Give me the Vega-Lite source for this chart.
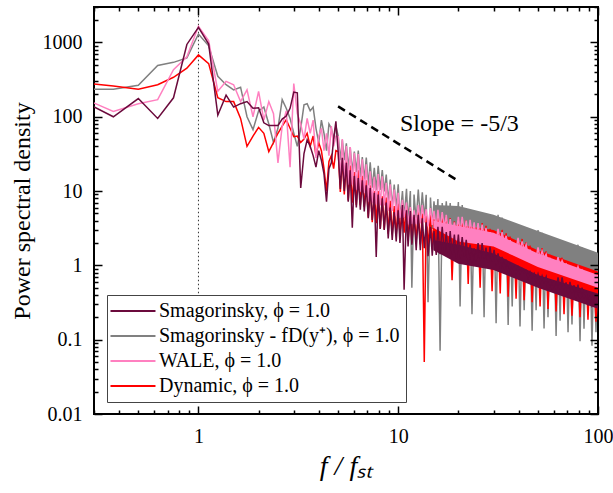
{
"$schema": "https://vega.github.io/schema/vega-lite/v6.json",
"width": 504, "height": 407,
"autosize": "none",
"padding": {"left": 94, "top": 7, "right": 15, "bottom": 79},
"background": "white",
"config": {
  "view": {"stroke": "black", "strokeWidth": 2},
  "font": "Liberation Serif",
  "legend": {"orient": "none", "legendX": 13, "legendY": 288, "fillColor": "white", "strokeColor": "#444", "strokeWidth": 1, "padding": 6, "labelFont": "Liberation Serif", "labelFontSize": 20, "labelColor": "black", "symbolType": "M-2.78,0H7.22", "symbolSize": 81, "symbolStrokeWidth": 2, "labelOffset": 26, "rowPadding": 5, "labelLimit": 400}
},
"datasets": {"psd": [
{"f":0.25,"a":175,"b":235,"c":190,"d":290},
{"f":0.375,"a":100,"b":235,"c":118,"d":260},
{"f":0.5,"a":176,"b":265,"c":150,"d":235},
{"f":0.625,"a":95,"b":490,"c":170,"d":270},
{"f":0.75,"a":180,"b":540,"c":430,"d":340},
{"f":0.875,"a":940,"b":620,"c":640,"d":450},
{"f":1.0,"a":1600,"b":1300,"c":1650,"d":680},
{"f":1.125,"a":950,"b":900,"c":1050,"d":520},
{"f":1.25,"a":105,"b":350,"c":220,"d":180},
{"f":1.375,"a":195,"b":270,"c":300,"d":160},
{"f":1.5,"a":135,"b":230,"c":270,"d":160},
{"f":1.625,"a":150,"b":250,"c":160,"d":95},
{"f":1.75,"a":160,"b":100,"c":230,"d":40},
{"f":1.875,"a":130,"b":67,"c":100,"d":55},
{"f":2.0,"a":132,"b":120,"c":220,"d":72},
{"f":2.125,"a":83,"b":135,"c":90,"d":60},
{"f":2.25,"a":76,"b":80,"c":160,"d":34},
{"f":2.375,"a":76,"b":45,"c":110,"d":45},
{"f":2.5,"a":76,"b":70,"c":24,"d":60},
{"f":2.625,"a":93,"b":170,"c":75,"d":75},
{"f":2.75,"a":102,"b":130,"c":120,"d":91},
{"f":2.875,"a":130,"b":95,"c":21,"d":70},
{"f":3.0,"a":215,"b":60,"c":280,"d":54},
{"f":3.125,"a":210,"b":40,"c":110,"d":55},
{"f":3.25,"a":11,"b":70,"c":80,"d":45},
{"f":3.375,"a":32,"b":145,"c":50,"d":50},
{"f":3.5,"a":49,"b":150,"c":95,"d":60},
{"f":3.625,"a":40,"b":120,"c":60,"d":40},
{"f":3.75,"a":30,"b":135,"c":90,"d":55},
{"f":3.875,"a":21,"b":70,"c":28,"d":30},
{"f":4.0,"a":35,"b":45,"c":55,"d":45},
{"f":4.125,"a":26,"b":90,"c":70,"d":35},
{"f":4.25,"a":17,"b":60,"c":35,"d":20},
{"f":4.375,"a":7.2,"b":35,"c":60,"d":10},
{"f":4.5,"a":20,"b":80,"c":30,"d":25},
{"f":4.625,"a":24,"b":70,"c":75,"d":30},
{"f":4.75,"a":50,"b":50,"c":40,"d":20},
{"f":4.875,"a":87,"b":75,"c":55,"d":35},
{"f":5.01,"a":32,"b":55,"c":54,"d":34},
{"f":5.13,"a":10.7,"b":26,"c":14.3,"d":9.7},
{"f":5.25,"a":28,"b":49,"c":50,"d":28},
{"f":5.37,"a":10,"b":26,"c":14.3,"d":9.0},
{"f":5.50,"a":24,"b":44,"c":40.5,"d":25},
{"f":5.62,"a":7.2,"b":19.7,"c":12.2,"d":7.5},
{"f":5.75,"a":19,"b":39,"c":39,"d":22},
{"f":5.89,"a":3.2,"b":17.6,"c":12.2,"d":7.0},
{"f":6.03,"a":16,"b":34,"c":32.8,"d":18},
{"f":6.17,"a":6.0,"b":18,"c":10.4,"d":6.5},
{"f":6.31,"a":15,"b":35,"c":31.6,"d":19},
{"f":6.46,"a":5.6,"b":15.4,"c":9.8,"d":6.4},
{"f":6.61,"a":14,"b":28.6,"c":26.7,"d":16},
{"f":6.76,"a":5.3,"b":14.3,"c":9.5,"d":6.1},
{"f":6.92,"a":12,"b":28.3,"c":23,"d":14},
{"f":7.08,"a":4.3,"b":11.9,"c":7.2,"d":4.4},
{"f":7.24,"a":11,"b":24.4,"c":18.5,"d":12},
{"f":7.41,"a":4.1,"b":11.1,"c":6.9,"d":3.8},
{"f":7.59,"a":9.5,"b":20.6,"c":15.5,"d":10},
{"f":7.76,"a":1.3,"b":10.3,"c":6.6,"d":3.7},
{"f":7.94,"a":9,"b":21.9,"c":17,"d":10},
{"f":8.13,"a":3.1,"b":10.4,"c":6.4,"d":3.1},
{"f":8.32,"a":8,"b":19.1,"c":15.8,"d":8.5},
{"f":8.51,"a":3.0,"b":9.9,"c":6.4,"d":3.05},
{"f":8.71,"a":7,"b":16.7,"c":12.9,"d":8.2},
{"f":8.91,"a":2.3,"b":7.0,"c":5.4,"d":2.66},
{"f":9.12,"a":6,"b":14.3,"c":12.3,"d":7.4},
{"f":9.33,"a":2.2,"b":6.0,"c":5.4,"d":2.6},
{"f":9.55,"a":5.2,"b":12.2,"c":10.5,"d":6.3},
{"f":9.77,"a":2.1,"b":5.8,"c":4.6,"d":2.54},
{"f":10.0,"a":5.5,"b":12.3,"c":9.5,"d":6.8},
{"f":10.2,"a":2.0,"b":4.2,"c":4.3,"d":2.65},
{"f":10.5,"a":6.5,"b":10.0,"c":7.6,"d":6.8},
{"f":10.7,"a":0.47,"b":4.3,"c":4.4,"d":2.75},
{"f":11.0,"a":5.5,"b":10.7,"c":7.0,"d":6.3},
{"f":11.2,"a":1.8,"b":3.85,"c":3.55,"d":2.16},
{"f":11.5,"a":5.4,"b":10.0,"c":6.1,"d":5.8},
{"f":11.7,"a":1.9,"b":0.5,"c":3.6,"d":2.0},
{"f":12.0,"a":4.8,"b":9.0,"c":5.5,"d":5.2},
{"f":12.3,"a":1.6,"b":4.0,"c":3.6,"d":2.12},
{"f":12.6,"a":4.8,"b":10.5,"c":6.5,"d":5.5},
{"f":12.9,"a":1.6,"b":4.2,"c":3.66,"d":1.92},
{"f":13.2,"a":4.3,"b":9.6,"c":6.5,"d":5.0},
{"f":13.5,"a":1.7,"b":4.3,"c":3.8,"d":0.05},
{"f":13.8,"a":3.8,"b":8.9,"c":5.7,"d":5.1},
{"f":14.1,"a":1.33,"b":0.32,"c":3.35,"d":1.78},
{"f":14.5,"a":3.3,"b":8.2,"c":5.9,"d":4.8},
{"f":14.8,"a":1.35,"b":3.1,"c":3.5,"d":1.81},
{"f":15.1,"a":2.9,"b":7.3,"c":5.4,"d":4.2},
{"f":15.5,"a":1.38,"b":3.3,"c":3.07,"d":1.85},
{"f":15.8,"a":3.3,"b":7.8,"c":5.6,"d":5.2},
{"f":16.2,"a":1.41,"b":0.071,"c":3.05,"d":1.97},
{"f":16.6,"a":3.3,"b":6.9,"c":5.2,"d":4.9},
{"f":17.0,"a":1.48,"b":3.0,"c":3.2,"d":2.05},
{"f":17.4,"a":2.8,"b":7.3,"c":4.8,"d":4.6},
{"f":17.8,"a":1.32,"b":2.66,"c":2.57,"d":1.62},
{"f":18.2,"a":2.9,"b":6.9,"c":4.2,"d":4.3},
{"f":18.6,"a":1.38,"b":2.67,"c":2.6,"d":0.63},
{"f":19.1,"a":2.6,"b":6.1,"c":3.8,"d":3.9},
{"f":19.5,"a":1.23,"b":2.7,"c":2.67,"d":1.61},
{"f":20.0,"a":2.6,"b":7.1,"c":4.5,"d":4.2},
{"f":20.4,"a":1.25,"b":0.28,"c":2.7,"d":1.46},
{"f":20.9,"a":2.4,"b":6.5,"c":4.5,"d":4.3},
{"f":21.4,"a":1.31,"b":2.9,"c":2.8,"d":1.49},
{"f":21.9,"a":2.2,"b":5.9,"c":4.0,"d":4.0},
{"f":22.4,"a":1.07,"b":2.26,"c":2.5,"d":0.56},
{"f":22.9,"a":1.9,"b":5.4,"c":4.1,"d":3.7},
{"f":23.4,"a":1.1,"b":0.22,"c":2.6,"d":1.37},
{"f":24.0,"a":1.7,"b":4.9,"c":3.8,"d":3.3},
{"f":24.5,"a":1.13,"b":2.18,"c":2.3,"d":1.4},
{"f":25.1,"a":2.0,"b":5.1,"c":3.7,"d":3.55},
{"f":25.7,"a":1.16,"b":1.95,"c":2.3,"d":0.5},
{"f":26.3,"a":2.0,"b":4.6,"c":3.55,"d":3.7},
{"f":26.9,"a":1.22,"b":0.20,"c":2.4,"d":1.57},
{"f":27.5,"a":1.74,"b":4.9,"c":3.2,"d":3.4},
{"f":28.2,"a":1.08,"b":1.76,"c":1.97,"d":1.22},
{"f":28.8,"a":1.78,"b":4.6,"c":2.8,"d":3.1},
{"f":29.5,"a":1.13,"b":1.77,"c":2.0,"d":0.45},
{"f":30.2,"a":1.62,"b":4.1,"c":2.5,"d":2.8},
{"f":30.9,"a":1.01,"b":0.166,"c":2.07,"d":1.19},
{"f":31.6,"a":1.45,"b":4.8,"c":3.1,"d":2.95},
{"f":32.4,"a":0.9,"b":1.86,"c":2.04,"d":0.42},
{"f":33.1,"a":1.3,"b":4.4,"c":2.8,"d":3.0},
{"f":33.9,"a":0.88,"b":1.9,"c":2.07,"d":1.29},
{"f":34.7,"a":1.2,"b":4.0,"c":2.5,"d":2.7},
{"f":35.5,"a":0.80,"b":0.158,"c":1.64,"d":0.38},
{"f":36.3,"a":1.05,"b":3.6,"c":2.18,"d":2.44},
{"f":37.2,"a":0.79,"b":0.28,"c":1.63,"d":0.90},
{"f":38.0,"a":0.93,"b":3.2,"c":1.92,"d":2.16},
{"f":38.9,"a":0.79,"b":1.41,"c":1.63,"d":0.355},
{"f":39.8,"a":0.95,"b":3.4,"c":2.34,"d":2.24},
{"f":40.7,"a":0.79,"b":0.151,"c":1.58,"d":0.98},
{"f":41.7,"a":0.9,"b":3.0,"c":2.1,"d":2.27},
{"f":42.7,"a":0.80,"b":0.25,"c":1.61,"d":0.34},
{"f":43.7,"a":0.85,"b":3.2,"c":1.9,"d":2.05},
{"f":44.7,"a":0.69,"b":1.12,"c":1.27,"d":0.79},
{"f":45.7,"a":0.82,"b":2.95,"c":1.63,"d":1.85},
{"f":46.8,"a":0.70,"b":0.132,"c":1.27,"d":0.32},
{"f":47.9,"a":0.78,"b":2.6,"c":1.43,"d":1.64},
{"f":49.0,"a":0.61,"b":0.25,"c":1.26,"d":0.77},
{"f":50.1,"a":0.76,"b":3.0,"c":1.74,"d":1.7},
{"f":51.3,"a":0.59,"b":1.17,"c":1.23,"d":0.28},
{"f":52.5,"a":0.72,"b":2.75,"c":1.56,"d":1.71},
{"f":53.7,"a":0.60,"b":0.141,"c":1.26,"d":0.84},
{"f":55.0,"a":0.70,"b":2.5,"c":1.41,"d":1.54},
{"f":56.2,"a":0.47,"b":0.20,"c":1.0,"d":0.26},
{"f":57.5,"a":0.65,"b":2.3,"c":1.21,"d":1.39},
{"f":58.9,"a":0.47,"b":0.85,"c":1.0,"d":0.61},
{"f":60.3,"a":0.62,"b":2.04,"c":1.06,"d":1.22},
{"f":61.7,"a":0.47,"b":0.112,"c":1.0,"d":0.24},
{"f":63.1,"a":0.69,"b":2.14,"c":1.29,"d":1.26},
{"f":64.6,"a":0.47,"b":0.18,"c":0.975,"d":0.68},
{"f":66.1,"a":0.69,"b":1.9,"c":1.16,"d":1.27},
{"f":67.6,"a":0.48,"b":0.79,"c":0.99,"d":0.22},
{"f":69.2,"a":0.59,"b":2.0,"c":1.04,"d":1.14},
{"f":70.8,"a":0.41,"b":0.126,"c":0.785,"d":0.55},
{"f":72.4,"a":0.60,"b":1.86,"c":0.90,"d":1.03},
{"f":74.1,"a":0.42,"b":0.16,"c":0.78,"d":0.21},
{"f":75.9,"a":0.54,"b":1.66,"c":0.79,"d":0.90},
{"f":77.6,"a":0.36,"b":0.71,"c":0.78,"d":0.53},
{"f":79.4,"a":0.55,"b":1.9,"c":0.955,"d":0.93},
{"f":81.3,"a":0.355,"b":0.095,"c":0.75,"d":0.20},
{"f":83.2,"a":0.50,"b":1.74,"c":0.86,"d":0.94},
{"f":85.1,"a":0.36,"b":0.14,"c":0.76,"d":0.58},
{"f":87.1,"a":0.45,"b":1.58,"c":0.77,"d":0.85},
{"f":89.1,"a":0.29,"b":0.59,"c":0.60,"d":0.186},
{"f":91.2,"a":0.39,"b":1.45,"c":0.66,"d":0.76},
{"f":93.3,"a":0.29,"b":0.083,"c":0.59,"d":0.42},
{"f":95.5,"a":0.35,"b":1.29,"c":0.58,"d":0.67},
{"f":97.7,"a":0.29,"b":0.126,"c":0.58,"d":0.174},
{"f":100,"a":0.41,"b":1.35,"c":0.71,"d":0.69}
],
"band": [
{"f":15,"glo":4.5,"ghi":6.5,"rlo":2.2,"rhi":3.3,"plo":3.2,"phi":4.0,"mlo":1.6,"mhi":2.2},
{"f":20,"glo":2.6,"ghi":6.3,"rlo":1.35,"rhi":3.5,"plo":2.1,"phi":3.4,"mlo":1.05,"mhi":1.9},
{"f":30,"glo":1.8,"ghi":4.8,"rlo":1.05,"rhi":3.0,"plo":1.8,"phi":2.75,"mlo":0.87,"mhi":1.45},
{"f":50,"glo":1.1,"ghi":2.9,"rlo":0.62,"rhi":1.6,"plo":0.95,"phi":1.45,"mlo":0.5,"mhi":0.74},
{"f":100,"glo":0.6,"ghi":1.48,"rlo":0.42,"rhi":0.83,"plo":0.5,"phi":0.74,"mlo":0.26,"mhi":0.42}
]},
"data": {"name": "psd"},
"layer": [
  {
    "data": {"values": [{"f": 1, "lo": 0.04, "hi": 3000}]},
    "mark": {"type": "rule", "color": "#333", "strokeWidth": 1, "strokeDash": [1.5, 2.5]},
    "encoding": {
      "x": {"field": "f", "type": "quantitative", "scale": {"type": "log", "domain": [0.3, 100], "nice": false}, "axis": null},
      "y": {"field": "lo", "type": "quantitative", "scale": {"type": "log", "domain": [0.01, 3000], "nice": false}, "axis": null},
      "y2": {"field": "hi"}
    }
  },
  {
    "data": {"name": "band"},
    "mark": {"type": "area", "color": "#808080", "clip": true},
    "encoding": {
      "x": {"field": "f", "type": "quantitative", "scale": {"type": "log", "domain": [0.3, 100], "nice": false}, "axis": null},
      "y": {"field": "glo", "type": "quantitative", "scale": {"type": "log", "domain": [0.01, 3000], "nice": false}, "axis": null},
      "y2": {"field": "ghi"}
    }
  },
  {
    "mark": {"type": "line", "strokeWidth": 1.5, "clip": true},
    "encoding": {
      "x": {"field": "f", "type": "quantitative", "scale": {"type": "log", "domain": [0.3, 100], "nice": false},
        "axis": {"orient": "bottom", "values": [1, 10, 100], "format": "~g", "tickSize": -8, "zindex": 1,
          "labelPadding": 20, "labelFont": "Liberation Serif", "labelFontSize": 20, "labelColor": "black",
          "tickColor": "black", "tickWidth": 1.5, "domain": false, "grid": false, "labelOverlap": false, "labelFlush": false,
          "title": "f / fₛₜ", "titleFont": "Liberation Serif", "titleFontSize": 28, "titleFontStyle": "italic", "titleFontWeight": "normal", "titleColor": "black", "titlePadding": 6}},
      "y": {"field": "b", "type": "quantitative", "scale": {"type": "log", "domain": [0.01, 3000], "nice": false},
        "axis": {"orient": "left", "values": [0.01, 0.1, 1, 10, 100, 1000], "format": "~g", "tickSize": -8, "zindex": 1,
          "labelPadding": 20, "labelFont": "Liberation Serif", "labelFontSize": 20, "labelColor": "black",
          "tickColor": "black", "tickWidth": 1.5, "domain": false, "grid": false, "labelOverlap": false, "labelFlush": false,
          "title": "Power spectral density", "titleFont": "Liberation Serif", "titleFontSize": 24, "titleFontWeight": "normal", "titleColor": "black", "titlePadding": 8}},
      "color": {"datum": "Smagorinsky - fD(y⁺), ϕ = 1.0", "scale": {"domain": ["Smagorinsky, ϕ = 1.0", "Smagorinsky - fD(y⁺), ϕ = 1.0", "WALE, ϕ = 1.0", "Dynamic, ϕ = 1.0"], "range": ["#6B0A3C", "#808080", "#FF80C0", "#FF0000"]}, "legend": {"title": null}}
    }
  },
  {
    "data": {"name": "band"},
    "mark": {"type": "area", "color": "#FF0000", "clip": true},
    "encoding": {
      "x": {"field": "f", "type": "quantitative", "scale": {"type": "log", "domain": [0.3, 100], "nice": false}, "axis": null},
      "y": {"field": "rlo", "type": "quantitative", "scale": {"type": "log", "domain": [0.01, 3000], "nice": false}, "axis": null},
      "y2": {"field": "rhi"}
    }
  },
  {
    "mark": {"type": "line", "strokeWidth": 1.5, "clip": true},
    "encoding": {
      "x": {"field": "f", "type": "quantitative", "scale": {"type": "log", "domain": [0.3, 100], "nice": false},
        "axis": {"orient": "top", "values": [1, 10, 100], "labels": false, "title": null, "tickSize": -8, "zindex": 1,
          "tickColor": "black", "tickWidth": 1.5, "domain": false, "grid": false}},
      "y": {"field": "d", "type": "quantitative", "scale": {"type": "log", "domain": [0.01, 3000], "nice": false},
        "axis": {"orient": "right", "values": [0.01, 0.1, 1, 10, 100, 1000], "labels": false, "title": null, "tickSize": -8, "zindex": 1,
          "tickColor": "black", "tickWidth": 1.5, "domain": false, "grid": false}},
      "color": {"datum": "Dynamic, ϕ = 1.0", "legend": {"title": null}}
    }
  },
  {
    "data": {"name": "band"},
    "mark": {"type": "area", "color": "#FF80C0", "clip": true},
    "encoding": {
      "x": {"field": "f", "type": "quantitative", "scale": {"type": "log", "domain": [0.3, 100], "nice": false}, "axis": null},
      "y": {"field": "plo", "type": "quantitative", "scale": {"type": "log", "domain": [0.01, 3000], "nice": false}, "axis": null},
      "y2": {"field": "phi"}
    }
  },
  {
    "mark": {"type": "line", "strokeWidth": 1.5, "clip": true},
    "encoding": {
      "x": {"field": "f", "type": "quantitative", "scale": {"type": "log", "domain": [0.3, 100], "nice": false},
        "axis": {"orient": "bottom", "values": [0.3,0.4,0.5,0.6,0.7,0.8,0.9,2,3,4,5,6,7,8,9,20,30,40,50,60,70,80,90], "labels": false, "title": null, "tickSize": -4, "zindex": 1,
          "tickColor": "black", "tickWidth": 1.5, "domain": false, "grid": false}},
      "y": {"field": "c", "type": "quantitative", "scale": {"type": "log", "domain": [0.01, 3000], "nice": false},
        "axis": {"orient": "left", "values": [0.02,0.03,0.04,0.05,0.06,0.07,0.08,0.09,0.2,0.3,0.4,0.5,0.6,0.7,0.8,0.9,2,3,4,5,6,7,8,9,20,30,40,50,60,70,80,90,200,300,400,500,600,700,800,900,2000,3000], "labels": false, "title": null, "tickSize": -4, "zindex": 1,
          "tickColor": "black", "tickWidth": 1.5, "domain": false, "grid": false}},
      "color": {"datum": "WALE, ϕ = 1.0", "legend": {"title": null}}
    }
  },
  {
    "data": {"name": "band"},
    "mark": {"type": "area", "color": "#6B0A3C", "clip": true},
    "encoding": {
      "x": {"field": "f", "type": "quantitative", "scale": {"type": "log", "domain": [0.3, 100], "nice": false}, "axis": null},
      "y": {"field": "mlo", "type": "quantitative", "scale": {"type": "log", "domain": [0.01, 3000], "nice": false}, "axis": null},
      "y2": {"field": "mhi"}
    }
  },
  {
    "mark": {"type": "line", "strokeWidth": 1.5, "clip": true},
    "encoding": {
      "x": {"field": "f", "type": "quantitative", "scale": {"type": "log", "domain": [0.3, 100], "nice": false},
        "axis": {"orient": "top", "values": [0.3,0.4,0.5,0.6,0.7,0.8,0.9,2,3,4,5,6,7,8,9,20,30,40,50,60,70,80,90], "labels": false, "title": null, "tickSize": -4, "zindex": 1,
          "tickColor": "black", "tickWidth": 1.5, "domain": false, "grid": false}},
      "y": {"field": "a", "type": "quantitative", "scale": {"type": "log", "domain": [0.01, 3000], "nice": false},
        "axis": {"orient": "right", "values": [0.02,0.03,0.04,0.05,0.06,0.07,0.08,0.09,0.2,0.3,0.4,0.5,0.6,0.7,0.8,0.9,2,3,4,5,6,7,8,9,20,30,40,50,60,70,80,90,200,300,400,500,600,700,800,900,2000,3000], "labels": false, "title": null, "tickSize": -4, "zindex": 1,
          "tickColor": "black", "tickWidth": 1.5, "domain": false, "grid": false}},
      "color": {"datum": "Smagorinsky, ϕ = 1.0", "legend": {"title": null}}
    }
  },
  {
    "data": {"values": [{"f": 5, "p": 138}, {"f": 20, "p": 13.7}]},
    "mark": {"type": "line", "color": "black", "strokeWidth": 2.5, "strokeDash": [8, 5]},
    "encoding": {
      "x": {"field": "f", "type": "quantitative", "scale": {"type": "log", "domain": [0.3, 100], "nice": false}, "axis": null},
      "y": {"field": "p", "type": "quantitative", "scale": {"type": "log", "domain": [0.01, 3000], "nice": false}, "axis": null}
    }
  },
  {
    "data": {"values": [{"f": 10.2, "p": 81, "t": "Slope = -5/3"}]},
    "mark": {"type": "text", "font": "Liberation Serif", "fontSize": 24, "align": "left", "baseline": "middle", "color": "black"},
    "encoding": {
      "x": {"field": "f", "type": "quantitative", "scale": {"type": "log", "domain": [0.3, 100], "nice": false}, "axis": null},
      "y": {"field": "p", "type": "quantitative", "scale": {"type": "log", "domain": [0.01, 3000], "nice": false}, "axis": null},
      "text": {"field": "t"}
    }
  }
],
"resolve": {"axis": {"x": "independent", "y": "independent"}}
}
